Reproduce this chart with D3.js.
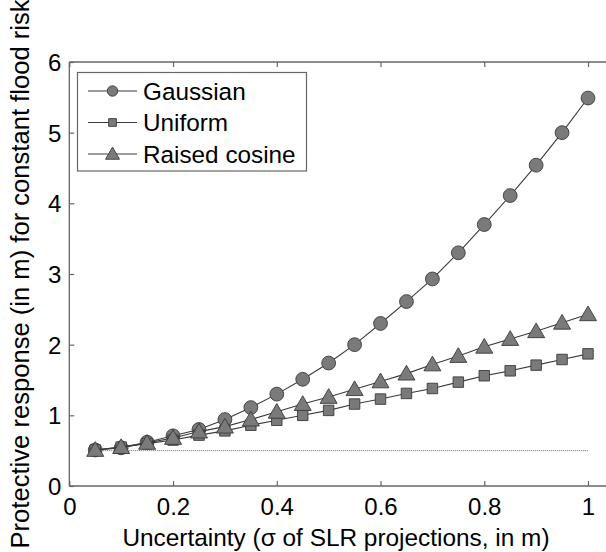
<!DOCTYPE html>
<html><head><meta charset="utf-8">
<script src="https://cdn.jsdelivr.net/npm/d3@7"></script>
<style>body{margin:0;background:#fff}svg{display:block}text{font-family:"Liberation Sans",Arial,sans-serif;fill:#000}</style>
</head><body><svg id="c" width="606" height="552"></svg>
<script>
const sigma = [0.05,0.1,0.15,0.2,0.25,0.3,0.35,0.4,0.45,0.5,0.55,0.6,0.65,0.7,0.75,0.8,0.85,0.9,0.95,1.0];
const gaussian = [0.51,0.54,0.62,0.71,0.80,0.94,1.11,1.30,1.51,1.74,2.00,2.30,2.61,2.93,3.30,3.70,4.11,4.54,5.00,5.49];
const uniform = [0.51,0.55,0.60,0.65,0.72,0.78,0.86,0.93,1.00,1.07,1.16,1.23,1.31,1.38,1.47,1.56,1.63,1.71,1.79,1.87];
const raisedCosine = [0.51,0.55,0.61,0.68,0.77,0.84,0.94,1.05,1.16,1.26,1.37,1.48,1.59,1.72,1.84,1.97,2.08,2.19,2.31,2.43];
const baseline = 0.5;
const seriesNames = ["Gaussian","Uniform","Raised cosine"];
const xTicks = [0,0.2,0.4,0.6,0.8,1];
const yTicks = [0,1,2,3,4,5,6];
const xLabel = "Uncertainty (\u03c3 of SLR projections, in m)";
const yLabel = "Protective response (in m) for constant flood risk";

const svg = d3.select("#c");
const x = d3.scaleLinear().domain([0,1]).range([69.3,588]);
const y = d3.scaleLinear().domain([0,6]).range([486,62]);
const xMax = 1.05;
const axisCol = "#666";
const FS = 24;

// box
const g = svg.append("g");
g.append("line").attr("x1",x(0)).attr("x2",x(xMax)).attr("y1",y(0)).attr("y2",y(0)).attr("stroke",axisCol).attr("stroke-width",1.3);
g.append("line").attr("x1",x(0)).attr("x2",x(xMax)).attr("y1",y(6)).attr("y2",y(6)).attr("stroke",axisCol).attr("stroke-width",1.3);
g.append("line").attr("x1",x(0)).attr("x2",x(0)).attr("y1",y(0)).attr("y2",y(6)).attr("stroke",axisCol).attr("stroke-width",1.3);

// axes via d3
const xb = svg.append("g").attr("transform",`translate(0,${y(0)})`)
  .call(d3.axisBottom(x).tickValues(xTicks).tickSizeInner(-5).tickSizeOuter(0).tickPadding(12).tickFormat(d=>String(d)));
const xt = svg.append("g").attr("transform",`translate(0,${y(6)})`)
  .call(d3.axisTop(x).tickValues(xTicks).tickSizeInner(-5).tickSizeOuter(0).tickFormat(""));
const yl = svg.append("g").attr("transform",`translate(${x(0)},0)`)
  .call(d3.axisLeft(y).tickValues(yTicks).tickSizeInner(-5).tickSizeOuter(0).tickPadding(8).tickFormat(d=>String(d)));
[xb,xt,yl].forEach(a=>{a.select(".domain").remove();a.selectAll(".tick line").attr("stroke",axisCol).attr("stroke-width",1.2);
  a.selectAll("text").attr("font-size",FS).attr("fill","#000").attr("font-family","Liberation Sans, Arial, sans-serif");});
xb.selectAll("text").attr("dy","0.71em");
yl.selectAll("text").attr("dy","0.36em");

// labels
svg.append("text").attr("x",336).attr("y",546).attr("text-anchor","middle").attr("font-size",24.4).text(xLabel);
svg.append("text").attr("transform","translate(29,274) rotate(-90)").attr("text-anchor","middle").attr("font-size",25.6).text(yLabel);

// baseline dotted
svg.append("line").attr("x1",x(sigma[0])).attr("x2",x(sigma[sigma.length-1])).attr("y1",y(baseline)).attr("y2",y(baseline))
  .attr("stroke","#666").attr("stroke-width",1).attr("stroke-dasharray","1,1");

const line = d3.line().x((d,i)=>x(sigma[i])).y(d=>y(d));
const fill = "#7a7a7a", edge = "#3a3a3a", lineCol = "#3a3a3a";
const sym = {
  "Gaussian": d3.symbol().type(d3.symbolCircle).size(150),
  "Uniform": d3.symbol().type(d3.symbolSquare).size(110),
  "Raised cosine": d3.symbol().type(d3.symbolTriangle).size(125)
};
const data = [gaussian,uniform,raisedCosine];
data.forEach((vals,k)=>{
  const name = seriesNames[k];
  svg.append("path").attr("d",line(vals)).attr("fill","none").attr("stroke",lineCol).attr("stroke-width",1.1);
  svg.append("g").selectAll("path").data(vals).join("path")
    .attr("transform",(d,i)=>`translate(${x(sigma[i])},${y(d) + (name==="Raised cosine"?1.5:0)})`)
    .attr("d",sym[name]()).attr("fill",fill).attr("stroke",edge).attr("stroke-width",0.9);
});

// legend
const lg = svg.append("g");
lg.append("rect").attr("x",77.5).attr("y",72.5).attr("width",229).attr("height",98.5).attr("fill","#fff").attr("stroke",axisCol).attr("stroke-width",1.2);
const legSym = {
  "Gaussian": d3.symbol().type(d3.symbolCircle).size(85),
  "Uniform": d3.symbol().type(d3.symbolSquare).size(60),
  "Raised cosine": d3.symbol().type(d3.symbolTriangle).size(85)
};
seriesNames.forEach((n,i)=>{
  const yy = 91 + i*31.5;
  lg.append("line").attr("x1",88).attr("x2",137).attr("y1",yy).attr("y2",yy).attr("stroke",lineCol).attr("stroke-width",1.1);
  lg.append("path").attr("transform",`translate(112.5,${yy + (n==="Raised cosine"?1.2:0)})`).attr("d",legSym[n]()).attr("fill",fill).attr("stroke",edge).attr("stroke-width",0.9);
  lg.append("text").attr("x",143).attr("y",yy).attr("dy","0.36em").attr("font-size",24.3).text(n);
});
</script></body></html>
